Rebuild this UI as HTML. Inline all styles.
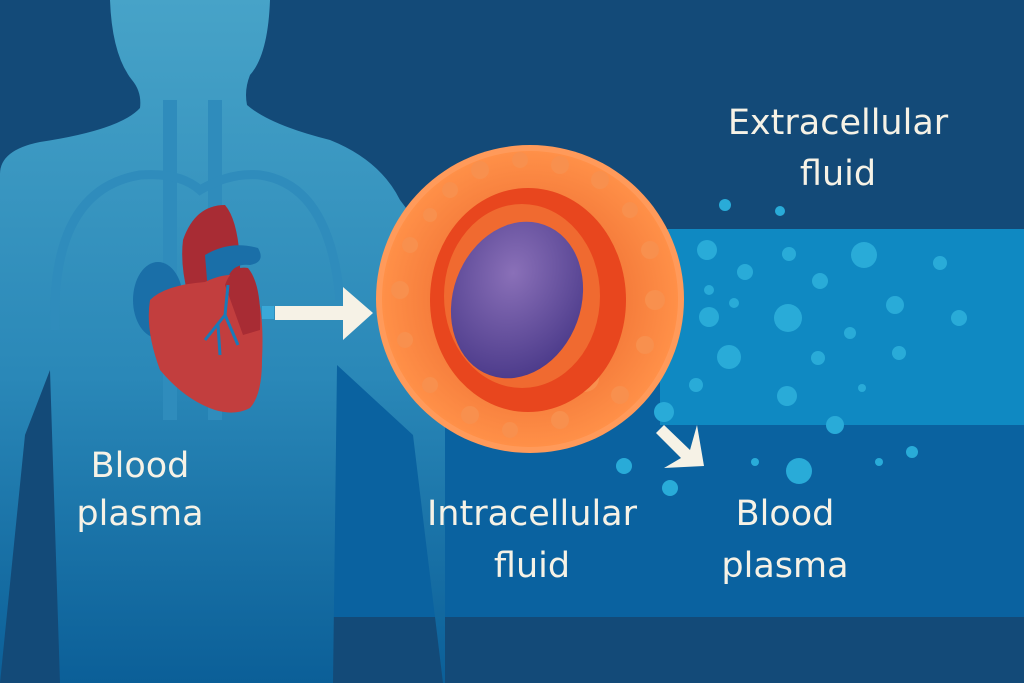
<!DOCTYPE html>
<html><head><meta charset="utf-8"><style>
html,body{margin:0;padding:0;background:#134a78;}
svg{display:block}
text{font-family:"DejaVu Sans","Liberation Sans",sans-serif;fill:#f6f2e6;font-size:35px;text-anchor:middle}
</style></head><body>
<svg width="1024" height="683" viewBox="0 0 1024 683" xmlns="http://www.w3.org/2000/svg">
<defs>
<linearGradient id="body" x1="0" y1="0" x2="0" y2="1">
<stop offset="0" stop-color="#47a3c8"/><stop offset="0.55" stop-color="#2a88b8"/><stop offset="1" stop-color="#0b5f98"/></linearGradient>
<radialGradient id="nuc" cx="0.4" cy="0.35" r="0.7"><stop offset="0" stop-color="#8a70b8"/><stop offset="1" stop-color="#4b3a8a"/></radialGradient>
<radialGradient id="cyto" cx="0.5" cy="0.5" r="0.5"><stop offset="0.6" stop-color="#f47a3a"/><stop offset="1" stop-color="#ff9048"/></radialGradient>
</defs>
<rect width="1024" height="683" fill="#134a78"/>
<rect x="333" y="360" width="691" height="257" fill="#0a62a0"/>
<rect x="660" y="229" width="364" height="196" fill="#0f89c2"/>
<!-- body -->
<path d="M110 0 L270 0 Q268 55 250 75 Q244 90 247 105 Q270 125 330 140 Q380 160 400 200 L445 260 L445 683 L443 683 L413 435 L337 365 L333 683 L60 683 L50 370 L25 435 L0 683 L0 174 Q0 150 40 142 Q120 130 140 108 Q142 92 132 80 Q112 55 110 0Z" fill="url(#body)"/>
<path d="M170 100 L170 420 M215 100 L215 420" stroke="#2f8cbc" stroke-width="14" fill="none"/>
<path d="M55 330 Q50 190 140 175 Q180 172 200 190 Q230 172 260 175 Q330 185 340 300" stroke="#2f8cbc" stroke-width="9" fill="none"/>
<!-- heart -->
<ellipse cx="158" cy="300" rx="25" ry="38" fill="#1a6fa8"/>
<path d="M183 240 Q195 205 225 205 Q242 225 240 290 L188 295 Q180 265 183 240Z" fill="#a82c34"/>
<path d="M205 255 Q230 240 258 248 Q266 262 250 265 Q228 262 225 290 L208 292Z" fill="#1a6fa8"/>
<path d="M150 300 Q165 285 205 282 Q230 270 250 278 Q265 300 262 360 Q262 395 250 408 Q235 416 215 410 Q185 400 160 370 Q145 330 150 300Z" fill="#c23e3e"/>
<path d="M225 285 Q232 265 248 268 Q262 285 260 330 L243 335Z" fill="#a82c34"/>
<path d="M228 285 L225 315 L205 340 M225 315 L238 345 M218 325 L220 355" stroke="#1a7ab8" stroke-width="3" fill="none"/>
<!-- arrow -->
<rect x="262" y="306" width="12" height="13" fill="#3aa8d8"/>
<rect x="275" y="306" width="70" height="14" fill="#f6f2e6"/>
<polygon points="343,287 373,313 343,340" fill="#f6f2e6"/>
<!-- cell -->
<circle cx="530" cy="299" r="154" fill="#ff9a5a"/>
<circle cx="530" cy="299" r="148" fill="url(#cyto)"/>
<g fill="#f8904e">
<circle cx="450" cy="190" r="8"/><circle cx="480" cy="170" r="9"/><circle cx="520" cy="160" r="8"/><circle cx="560" cy="165" r="9"/><circle cx="600" cy="180" r="9"/><circle cx="630" cy="210" r="8"/><circle cx="650" cy="250" r="9"/><circle cx="655" cy="300" r="10"/><circle cx="645" cy="345" r="9"/><circle cx="585" cy="378" r="14"/><circle cx="620" cy="395" r="9"/><circle cx="560" cy="420" r="9"/><circle cx="510" cy="430" r="8"/><circle cx="470" cy="415" r="9"/><circle cx="430" cy="385" r="8"/><circle cx="405" cy="340" r="8"/><circle cx="400" cy="290" r="9"/><circle cx="410" cy="245" r="8"/><circle cx="430" cy="215" r="7"/>
</g>
<ellipse cx="528" cy="300" rx="98" ry="112" fill="#e8461e"/>
<ellipse cx="522" cy="296" rx="78" ry="92" fill="#f06a30"/>
<ellipse cx="517" cy="300" rx="64" ry="80" transform="rotate(20 517 300)" fill="url(#nuc)"/>
<!-- bubbles -->
<g fill="#29abd8">
<circle cx="725" cy="205" r="6"/><circle cx="780" cy="211" r="5"/>
<circle cx="707" cy="250" r="10"/><circle cx="745" cy="272" r="8"/><circle cx="789" cy="254" r="7"/><circle cx="864" cy="255" r="13"/><circle cx="940" cy="263" r="7"/>
<circle cx="709" cy="290" r="5"/><circle cx="734" cy="303" r="5"/><circle cx="820" cy="281" r="8"/><circle cx="895" cy="305" r="9"/><circle cx="959" cy="318" r="8"/>
<circle cx="709" cy="317" r="10"/><circle cx="788" cy="318" r="14"/><circle cx="850" cy="333" r="6"/>
<circle cx="729" cy="357" r="12"/><circle cx="818" cy="358" r="7"/><circle cx="899" cy="353" r="7"/>
<circle cx="696" cy="385" r="7"/><circle cx="787" cy="396" r="10"/><circle cx="862" cy="388" r="4"/><circle cx="835" cy="425" r="9"/><circle cx="664" cy="412" r="10"/>
<circle cx="624" cy="466" r="8"/><circle cx="670" cy="488" r="8"/><circle cx="755" cy="462" r="4"/><circle cx="799" cy="471" r="13"/><circle cx="879" cy="462" r="4"/><circle cx="912" cy="452" r="6"/>
</g>
<!-- small arrow -->
<polygon points="656,433 664,425 690,450 697,425 704,466 664,468 681,458" fill="#f6f2e6"/>
<text x="140" y="477">Blood</text><text x="140" y="525">plasma</text>
<text x="532" y="525">Intracellular</text><text x="532" y="577">fluid</text>
<text x="838" y="134">Extracellular</text><text x="838" y="185">fluid</text>
<text x="785" y="525">Blood</text><text x="785" y="577">plasma</text>
</svg>
</body></html>
